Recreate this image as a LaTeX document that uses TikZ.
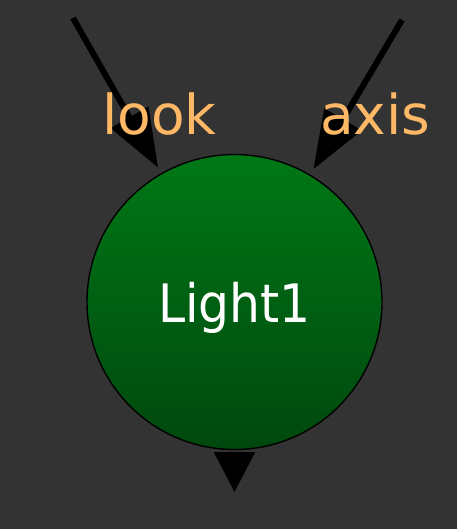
\documentclass[tikz,border=0pt]{standalone}
\usepackage{fontspec}
\setmainfont{DejaVu Sans}[FakeStretch=0.92]
\newfontfamily\portfont{DejaVu Sans}
\usepackage{xcolor}
\usetikzlibrary{arrows.meta}
\definecolor{canvasgray}{RGB}{51, 51, 51}
\definecolor{lighttop}{RGB}{0, 120, 22}
\definecolor{lightbottom}{RGB}{0, 72, 14}
\definecolor{portorange}{RGB}{255, 184, 102}

\begin{document}
\begin{tikzpicture}[x=1pt, y=-1pt,
    portarrow/.style={line width=6pt, black, -{Triangle[length=58pt, width=42pt]}},
    outarrow/.style={line width=6pt, black, -{Triangle[length=40pt, width=40pt]}},
    portlabel/.style={portorange, font=\portfont\fontsize{55}{60}\selectfont, inner sep=0pt, anchor=base west}]
                % Background
                \fill[canvasgray] (0,0) rectangle (457,529);
                \useasboundingbox (0,0) rectangle (457,529);
                
                % Light node
                \node[circle, draw=black, line width=1.4pt, minimum size=295pt, inner sep=0pt,
                      outer sep=7pt, top color=lighttop, bottom color=lightbottom,
                      text=white, font=\fontsize{53}{60}\selectfont, text depth=0pt]
                      (light1) at (234.5,302) {Light1};
                
                % Input arrows
                \coordinate (lookin) at (73,18);
                \coordinate (axisin) at (402,20);
                \draw[portarrow] (lookin) -- (light1);
                \draw[portarrow] (axisin) -- (light1);
                \node[portlabel] (looklabel) at (102,135) {look};
                \node[portlabel] (axislabel) at (320,135) {axis};
                
                % Output arrow
                \coordinate (lightout) at (234.5,492);
                \draw[outarrow] (light1.south) -- (lightout);
            \end{tikzpicture}
\end{document}
